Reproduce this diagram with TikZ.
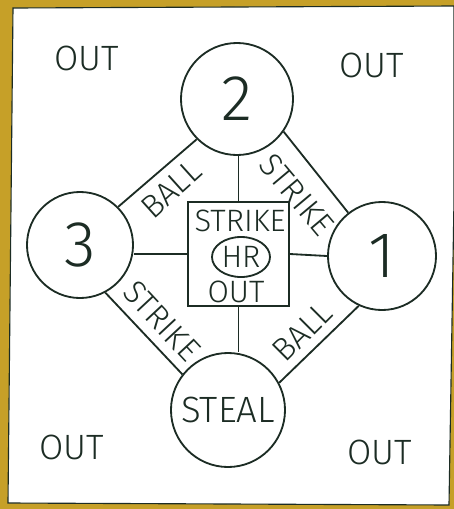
\documentclass[tikz,border=0pt]{standalone}
\usepackage{fontspec}
\setmainfont{Fira Sans}[UprightFont={* Light}]
\usetikzlibrary{shapes.geometric}
\definecolor{mustard}{RGB}{198,160,40}
\definecolor{ink}{RGB}{28,44,36}
\tikzset{
  base/.style={draw=ink, circle, line width=1.3pt, inner sep=0pt, font=\fontsize{46}{50}\selectfont, text=ink},
  word/.style={text=ink, inner sep=0pt, font=\fontsize{22}{26}\selectfont},
  edgeword/.style={word, font=\fontsize{23}{27}\selectfont},
  corner/.style={word, font=\fontsize{25}{30}\selectfont},
}
\begin{document}
\begin{tikzpicture}[x=0.025cm, y=-0.025cm, line width=1.3pt, draw=ink]
  \useasboundingbox (0,0) rectangle (454,509);
  \fill[mustard] (0,0) rectangle (454,509);
  \filldraw[fill=white, draw=ink, line width=0.8pt] (13,8) -- (454,6) -- (454,200) -- (449,505) -- (8,503) -- cycle;

  \node[base, minimum size=2.8cm] (two) at (237,99) {2};
  \node[base, minimum size=2.65cm] (three) at (80,245) {3};
  \node[base, minimum size=2.7cm] (one) at (382,256) {1};
  \node[base, minimum size=2.85cm, font=\fontsize{26}{30}\selectfont] (steal) at (228,410) {STEAL};

  \node[draw=ink, line width=1.3pt, minimum width=2.525cm, minimum height=2.6cm] (plate) at (238.5,254) {};
  \node[draw=ink, line width=1.3pt, ellipse, minimum width=1.45cm, minimum height=1.0cm, word] (hr) at (241,257) {HR};
  \node[word] (strike) at (240,221) {STRIKE};
  \node[word] (pout) at (236,292) {OUT};

  \draw (two.225) -- (three.45);
  \draw (two.-35) -- (one.128);
  \draw (three.-62) -- (steal.142);
  \draw (one.-115) -- (steal.28);

  \draw (plate.north) -- (plate.north |- two.south);
  \draw (plate.west) -- (plate.west -| three.east);
  \draw (plate.east) -- (one.west);
  \draw (plate.south) -- (plate.south |- steal.north);

  \node[edgeword, rotate=42] (ball23) at (171,189) {BALL};
  \node[edgeword, rotate=-50] (strike21) at (297,195) {STRIKE};
  \node[edgeword, rotate=-47] (strike3s) at (162,321) {STRIKE};
  \node[edgeword, rotate=45] (ball1s) at (302,332) {BALL};

  \node[corner] (outtl) at (87,58) {OUT};
  \node[corner] (outtr) at (372,65) {OUT};
  \node[corner] (outbl) at (72,447) {OUT};
  \node[corner] (outbr) at (380,452) {OUT};
\end{tikzpicture}
\end{document}
